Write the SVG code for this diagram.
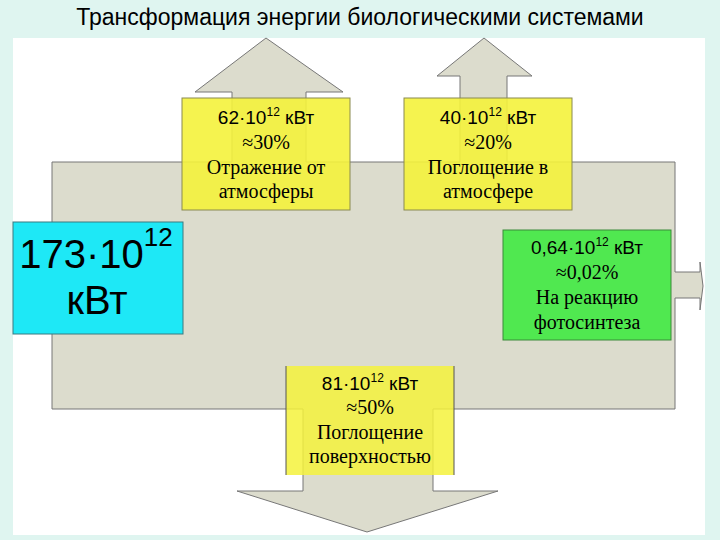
<svg xmlns="http://www.w3.org/2000/svg" width="720" height="540" viewBox="0 0 720 540">
<style>
.s{font-family:"Liberation Sans",Arial,sans-serif;fill:#000}
.r{font-family:"Liberation Serif","Times New Roman",serif;fill:#000}
.y{fill:#f4f23c;fill-opacity:0.9;stroke:#8a8a50;stroke-width:1}
</style>
<rect width="720" height="540" fill="#dff5f0"/>
<rect x="13" y="38" width="692" height="497" fill="#ffffff"/>
<text x="360" y="25" text-anchor="middle" class="s" font-size="23">Трансформация энергии биологическими системами</text>
<g id="connectors" fill="#dcdccd" stroke="#777" stroke-width="1">
<path d="M52,162 H232 V92 H195 L266,38 L343,92 H306 V162 H460 V76 H437 L484,38 L532,76 H507 V162 H675 V272 H700 V262 L703,286 L700,310 V298 H675 V409 H433 V491 H498 L367,532 L237,491 H303 V409 H52 Z"/>
</g>
<g id="n1"><rect class="y" x="182" y="98" width="168" height="112"/>
<text x="266" y="124" text-anchor="middle" class="s" font-size="19">62·10<tspan font-size="12" dy="-8">12</tspan><tspan dy="8"> кВт</tspan></text>
<text x="266" y="149" text-anchor="middle" class="r" font-size="20">≈30%</text>
<text x="266" y="174" text-anchor="middle" class="r" font-size="20">Отражение от</text>
<text x="266" y="198" text-anchor="middle" class="r" font-size="20">атмосферы</text></g>
<g id="n2"><rect class="y" x="404" y="98" width="168" height="112"/>
<text x="488" y="124" text-anchor="middle" class="s" font-size="19">40·10<tspan font-size="12" dy="-8">12</tspan><tspan dy="8"> кВт</tspan></text>
<text x="488" y="149" text-anchor="middle" class="r" font-size="20">≈20%</text>
<text x="488" y="174" text-anchor="middle" class="r" font-size="20">Поглощение в</text>
<text x="488" y="198" text-anchor="middle" class="r" font-size="20">атмосфере</text></g>
<g id="n3"><rect x="13" y="222" width="170" height="112" fill="#1ee8f6" stroke="#3a7a80"/>
<text x="96" y="268" text-anchor="middle" class="s" font-size="40">173·10<tspan font-size="26" dy="-22">12</tspan></text>
<text x="97" y="314" text-anchor="middle" class="s" font-size="40">кВт</text></g>
<g id="n4"><rect x="503" y="230" width="168" height="110" fill="#50e850" stroke="#3a8a3a"/>
<text x="587" y="254" text-anchor="middle" class="s" font-size="19">0,64·10<tspan font-size="12" dy="-8">12</tspan><tspan dy="8"> кВт</tspan></text>
<text x="587" y="279" text-anchor="middle" class="r" font-size="20">≈0,02%</text>
<text x="587" y="304" text-anchor="middle" class="r" font-size="20">На реакцию</text>
<text x="587" y="329" text-anchor="middle" class="r" font-size="20">фотосинтеза</text></g>
<g id="n5"><rect x="286" y="366" width="168" height="109" fill="#f4f23c" fill-opacity="0.85"/>
<path d="M286,366 V475 M454,366 V475" stroke="#555" fill="none"/>
<text x="370" y="390" text-anchor="middle" class="s" font-size="19">81·10<tspan font-size="12" dy="-8">12</tspan><tspan dy="8"> кВт</tspan></text>
<text x="370" y="414" text-anchor="middle" class="r" font-size="20">≈50%</text>
<text x="370" y="439" text-anchor="middle" class="r" font-size="20">Поглощение</text>
<text x="370" y="463" text-anchor="middle" class="r" font-size="20">поверхностью</text></g>
</svg>
